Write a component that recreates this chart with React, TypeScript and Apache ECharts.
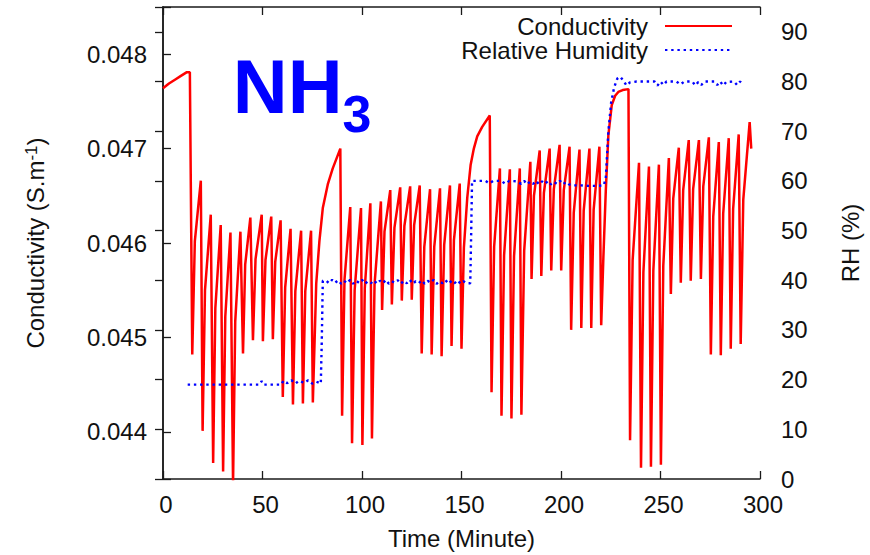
import React, { useEffect, useRef } from 'react';
import * as echarts from 'echarts';

const FONT = '"Liberation Sans", Arial, Helvetica, sans-serif';
const TEXT = '#111111';
const AXIS = '#1a1a1a';

// Tick labels
const timeTicks = [0, 50, 100, 150, 200, 250, 300];
const condTicks = [0.044, 0.045, 0.046, 0.047, 0.048];
const condRange = [0.0435, 0.0485];
const rhTicks = [0, 10, 20, 30, 40, 50, 60, 70, 80, 90];
const rhRange = [0, 95];

// Conductivity (S/m) vs time (minute), stage by stage
const condStage20: [number, number][] = [
  [0, 0.04764], [3, 0.04769], [6, 0.04773], [9, 0.04777], [12, 0.04781], [13.5, 0.04781],
  [14.7, 0.04482], [16.0, 0.04602], [19.0, 0.04666],
  [19.9, 0.04401], [21.1, 0.0455], [24.0, 0.0463],
  [25.2, 0.04367], [26.3, 0.04531], [29.0, 0.04619],
  [30.2, 0.04358], [31.3, 0.04522], [33.9, 0.04611],
  [35.2, 0.04345], [36.3, 0.04517], [38.9, 0.04612],
  [40.2, 0.04483], [41.3, 0.04577], [43.9, 0.04627],
  [45.2, 0.04497], [46.5, 0.04583], [49.6, 0.0463],
  [50.2, 0.04496], [51.5, 0.04582], [54.4, 0.04628],
  [55.2, 0.04498], [56.4, 0.0458], [59.1, 0.04624],
  [60.2, 0.04437], [61.4, 0.04553], [64.1, 0.04615],
  [65.3, 0.04429], [66.5, 0.04549], [69.4, 0.04613],
  [70.3, 0.0443], [71.5, 0.04549], [74.4, 0.04613],
  [75.3, 0.04431], [77.0, 0.04557], [78.6, 0.04602], [80.3, 0.04637], [82.8, 0.04662], [85.3, 0.04679], [89.1, 0.047],
];
const condStage40: [number, number][] = [
  [90.0, 0.04417], [91.2, 0.04561], [94.1, 0.04638],
  [95.0, 0.04388], [96.3, 0.0455], [99.5, 0.04637],
  [100.2, 0.04386], [101.4, 0.04552], [104.2, 0.04642],
  [105.0, 0.04393], [106.3, 0.04556], [109.5, 0.04644],
  [110.1, 0.04529], [111.3, 0.04612], [114.2, 0.04656],
  [115.0, 0.04535], [116.3, 0.04616], [119.2, 0.04659],
  [120.0, 0.04539], [121.3, 0.04618], [124.2, 0.0466],
  [125.0, 0.0454], [126.2, 0.04619], [129.0, 0.04661],
  [130.0, 0.04483], [131.3, 0.04596], [134.2, 0.04657],
  [135.0, 0.04482], [136.3, 0.04596], [139.2, 0.04658],
  [140.0, 0.0448], [141.3, 0.04598], [144.2, 0.04661],
  [145.0, 0.04491], [146.2, 0.04603], [149.1, 0.04663],
  [150.0, 0.04488], [151.2, 0.04595], [152.9, 0.04648], [154.6, 0.04683], [156.2, 0.047], [157.9, 0.04713], [160.4, 0.04723], [164.2, 0.04735],
];
const condStage60: [number, number][] = [
  [165.1, 0.04442], [166.4, 0.04596], [169.3, 0.04679],
  [170.1, 0.04417], [171.4, 0.04587], [174.3, 0.04678],
  [175.1, 0.04414], [176.4, 0.04586], [179.3, 0.04679],
  [180.1, 0.04418], [181.5, 0.04592], [184.6, 0.04686],
  [185.2, 0.04562], [186.4, 0.0465], [189.3, 0.04698],
  [190.1, 0.04565], [191.4, 0.04653], [194.3, 0.047],
  [195.1, 0.04571], [196.4, 0.04657], [199.3, 0.04704],
  [200.1, 0.04571], [201.4, 0.04656], [204.3, 0.04702],
  [205.1, 0.04508], [206.4, 0.04632], [209.3, 0.04699],
  [210.2, 0.0451], [211.4, 0.04634], [214.3, 0.047],
  [215.2, 0.0451], [216.4, 0.04635], [219.3, 0.04702],
  [220.2, 0.04513], [221.3, 0.04585], [222.5, 0.04655], [223.8, 0.04714], [225.5, 0.04746], [227.2, 0.04756], [228.8, 0.0476], [231.0, 0.04762], [233.9, 0.04763],
];
const condStage80: [number, number][] = [
  [234.7, 0.04391], [236.0, 0.04582], [239.2, 0.04685],
  [240.2, 0.04362], [241.4, 0.04569], [244.2, 0.04681],
  [245.2, 0.04363], [246.4, 0.04571], [249.2, 0.04683],
  [250.2, 0.04365], [251.4, 0.04576], [254.2, 0.0469],
  [255.2, 0.04546], [256.4, 0.04647], [259.2, 0.04701],
  [260.2, 0.04558], [261.4, 0.04656], [264.2, 0.04709],
  [265.2, 0.0456], [266.4, 0.04657], [269.3, 0.04709],
  [270.3, 0.04562], [271.5, 0.0466], [274.3, 0.04712],
  [275.3, 0.04482], [276.5, 0.04628], [279.3, 0.04707],
  [280.3, 0.04481], [281.5, 0.04631], [284.3, 0.04711],
  [285.3, 0.04488], [286.5, 0.04636], [289.3, 0.04715],
  [290.3, 0.04493], [291.6, 0.04646], [294.8, 0.04728],
  [295.6, 0.047],
];

// Relative humidity (%) vs time (minute)
const rhStage20: [number, number][] = [
  [12.4, 19.0], [30, 19.0], [48.5, 19.0], [49.6, 19.7], [50.6, 19.0], [59.5, 19.0], [60.5, 19.8],
  [62.5, 19.3], [64.5, 19.9], [66.5, 19.2], [68.5, 19.8], [71, 19.3], [73, 19.9], [75, 19.2], [77, 19.6], [79.3, 19.2],
  [79.8, 28], [80.3, 39.9],
];
const rhStage40: [number, number][] = [
  [82, 39.9], [83.5, 39.4], [85, 40.1], [86.5, 39.5], [88, 40.0], [89.5, 39.3], [91, 39.9], [92.5, 39.4],
  [94, 40.1], [95.5, 39.3], [97, 39.9], [98.5, 39.5], [100, 40.1], [101.5, 39.3], [103, 39.8], [104.5, 39.4],
  [106, 40.0], [107.5, 39.3], [109, 39.9], [110.5, 39.4], [112, 40.1], [113.5, 39.3], [115, 39.8], [116.5, 39.5],
  [118, 40.0], [119.5, 39.3], [121, 39.9], [122.5, 39.4], [124, 40.1], [125.5, 39.3], [127, 39.8], [128.5, 39.4],
  [130, 40.0], [131.5, 39.3], [133, 39.9], [134.5, 39.5], [136, 40.1], [137.5, 39.3], [139, 39.8], [140.5, 39.4],
  [142, 40.0], [143.5, 39.3], [145, 39.9], [146.5, 39.4], [148, 40.0], [149.5, 39.3], [151, 39.8], [152.5, 39.4], [154.4, 39.4],
  [154.8, 48], [155.3, 60.0],
];
const rhStage60: [number, number][] = [
  [158, 60.0], [162, 60.0], [164, 59.5], [166, 60.0], [170, 60.0], [172, 59.4], [174, 60.0], [178, 59.9],
  [180, 59.4], [181.5, 60.0], [183, 59.3], [184.5, 59.9], [186, 59.4], [187.5, 60.0], [189, 59.3], [190.5, 59.9],
  [192, 59.4], [193.5, 60.0], [195, 59.3], [196.5, 59.8], [198, 59.4], [199.5, 60.0], [201, 59.3], [202.5, 59.8],
  [204, 59.3], [206, 59.1], [210, 59.1], [214, 59.0], [218, 59.0], [221.5, 59.1],
  [222.5, 60.5], [223.8, 69.9], [225.2, 75.8], [226.7, 78.8], [228.3, 80.6], [229.7, 81.0], [231.3, 80.2], [232.9, 79.2], [234.6, 79.8],
];
const rhStage80: [number, number][] = [
  [238, 80.0], [243, 80.0], [247, 80.0], [248.5, 79.2], [250, 80.0], [251.5, 79.3], [253, 80.0], [258, 80.0],
  [260, 79.4], [262, 80.0], [266, 80.0], [267.5, 79.2], [269, 79.9], [270.5, 79.3], [272, 80.0], [277, 80.0],
  [278.5, 79.3], [280, 80.0], [281.5, 79.2], [283, 79.9], [287, 80.0], [288.5, 79.3], [290, 80.0], [291.4, 79.5],
];

const conductivity = [...condStage20, ...condStage40, ...condStage60, ...condStage80];
const humidity = [...rhStage20, ...rhStage40, ...rhStage60, ...rhStage80];

const near = (list: number[], v: number) => list.some((t) => Math.abs(t - v) < 1e-9);

export default function App() {
  const ref = useRef<HTMLDivElement>(null);

  useEffect(() => {
    if (!ref.current) return;
    const chart = echarts.init(ref.current, undefined, { renderer: 'svg' });

    const axisLine = { show: true, lineStyle: { color: AXIS, width: 1.5 } };
    const axisTick = { show: true, inside: true, length: 8, lineStyle: { color: AXIS, width: 1.3 } };
    const labelStyle = { fontSize: 24, color: TEXT, fontFamily: FONT };

    chart.setOption({
      animation: false,
      textStyle: { fontFamily: FONT },
      grid: { left: 163, right: 108, top: 7, bottom: 71, containLabel: false },
      legend: {
        orient: 'vertical',
        right: 137,
        top: 14,
        padding: 0,
        align: 'right',
        itemWidth: 67,
        itemHeight: 20,
        itemGap: 0,
        itemStyle: { opacity: 0 },
        textStyle: { fontSize: 24, color: TEXT, fontFamily: FONT, lineHeight: 23, padding: [0, 12, 0, 0] },
        data: ['Conductivity', 'Relative Humidity'],
      },
      graphic: [
        {
          type: 'text',
          x: 232.8,
          y: 86,
          style: { text: 'NH', fill: '#0000ff', fontSize: 76, fontWeight: 'bold', fontFamily: FONT, align: 'left', verticalAlign: 'middle' },
        },
        {
          type: 'text',
          x: 342.5,
          y: 114,
          style: { text: '3', fill: '#0000ff', fontSize: 52, fontWeight: 'bold', fontFamily: FONT, align: 'left', verticalAlign: 'middle' },
        },
      ],
      xAxis: [
        {
          type: 'value',
          position: 'bottom',
          min: timeTicks[0],
          max: timeTicks[timeTicks.length - 1],
          interval: timeTicks[1] - timeTicks[0],
          name: 'Time (Minute)',
          nameLocation: 'middle',
          nameGap: 47,
          nameTextStyle: labelStyle,
          axisLine,
          axisTick,
          axisLabel: { ...labelStyle, margin: 13, padding: [0, 0, 0, 6] },
          splitLine: { show: false },
        },
        {
          type: 'value',
          position: 'top',
          min: timeTicks[0],
          max: timeTicks[timeTicks.length - 1],
          interval: timeTicks[1] - timeTicks[0],
          axisLine,
          axisTick,
          axisLabel: { show: false },
          splitLine: { show: false },
        },
      ],
      yAxis: [
        {
          type: 'value',
          position: 'left',
          min: condRange[0],
          max: condRange[1],
          splitNumber: 5,
          name: 'Conductivity (S.m{sup|-1})',
          nameLocation: 'middle',
          nameRotate: 90,
          nameGap: 116,
          nameTextStyle: { ...labelStyle, rich: { sup: { fontSize: 17, color: TEXT, fontFamily: FONT, verticalAlign: 'top' } } },
          axisLine,
          axisTick,
          axisLabel: {
            ...labelStyle,
            margin: 16,
            formatter: (v: number) => (near(condTicks, v) ? v.toFixed(3) : ''),
          },
          splitLine: { show: false },
        },
        {
          type: 'value',
          position: 'right',
          min: rhRange[0],
          max: rhRange[1],
          interval: 10,
          name: 'RH (%)',
          nameLocation: 'middle',
          nameRotate: 90,
          nameGap: 78,
          nameTextStyle: labelStyle,
          axisLine,
          axisTick,
          axisLabel: {
            ...labelStyle,
            margin: 21,
            formatter: (v: number) => (near(rhTicks, v) ? String(v) : ''),
          },
          splitLine: { show: false },
        },
      ],
      series: [
        {
          name: 'Conductivity',
          type: 'line',
          xAxisIndex: 0,
          yAxisIndex: 0,
          data: conductivity,
          symbol: 'none',
          showSymbol: false,
          clip: true,
          itemStyle: { color: '#ff0000' },
          lineStyle: { color: '#ff0000', width: 2.5 },
          z: 2,
        },
        {
          name: 'Relative Humidity',
          type: 'line',
          xAxisIndex: 0,
          yAxisIndex: 1,
          data: humidity,
          symbol: 'none',
          showSymbol: false,
          clip: true,
          itemStyle: { color: '#0000ff' },
          lineStyle: { color: '#0000ff', width: 2.4, type: [2.4, 3.8] },
          z: 3,
        },
      ],
    });

    return () => chart.dispose();
  }, []);

  return <div ref={ref} style={{ position: 'absolute', left: 0, top: 0, width: 870, height: 555 }} />;
}
